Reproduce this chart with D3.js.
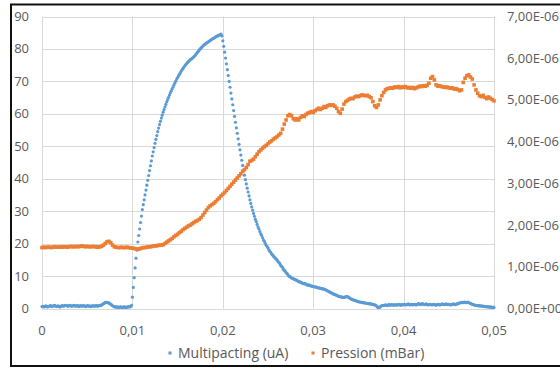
<!DOCTYPE html>
<html>
<meta charset="utf-8">
<style>
  body { margin: 0; background: #fff; }
  svg { display: block; }
  .tick-label { font-family: "Open Sans", sans-serif; font-size: 13px; fill: #595959; }
  .legend-label { font-family: "Open Sans", sans-serif; font-size: 14px; fill: #595959; }
  .grid line { stroke: #d9d9d9; stroke-width: 1; }
</style>
<body>
<script src="https://d3js.org/d3.v7.min.js"></script>
<script>
  // sample spacing of the two recordings (x = time-like abscissa)
  let multiStep = 0.0001;
  let pressStep = 0.0002;

  // Multipacting (uA), one value every 0.0001
  let multipacting = [
    0.6, 0.7, 0.5, 0.6, 0.8, 0.7, 0.5, 0.6, 0.7, 0.9,
    0.8, 0.6, 0.7, 0.9, 1.0, 0.8, 0.6, 0.7, 0.8, 0.6,
    0.5, 0.7, 0.9, 0.8, 0.7, 0.9, 1.0, 0.9, 0.8, 0.7,
    0.9, 1.0, 0.8, 0.7, 0.8, 1.0, 0.9, 0.7, 0.8, 0.9,
    0.8, 0.6, 0.8, 0.9, 0.7, 0.8, 0.9, 0.8, 0.6, 0.7,
    0.9, 0.8, 0.7, 0.8, 0.6, 0.7, 0.9, 0.8, 0.7, 0.8,
    0.9, 0.8, 0.7, 0.9, 1.0, 0.9, 1.1, 1.3, 1.5, 1.7,
    1.8, 1.9, 1.8, 1.9, 1.7, 1.5, 1.3, 1.1, 0.9, 0.7,
    0.6, 0.5, 0.4, 0.5, 0.4, 0.3, 0.4, 0.5, 0.4, 0.3,
    0.4, 0.5, 0.4, 0.3, 0.4, 0.5, 0.6, 0.5, 0.6, 1.0,
    3.5, 6.5, 9.5, 12.5, 15.5, 18, 20.5, 22.5, 24.5, 26.5,
    28.5, 30.5, 32, 33.5, 35, 36.5, 38, 39.5, 41, 42.5,
    44, 45.5, 47, 48.3, 49.6, 50.9, 52.1, 53.3, 54.5, 55.6,
    56.7, 57.7, 58.7, 59.6, 60.5, 61.3, 62.1, 62.9, 63.7, 64.4,
    65.1, 65.8, 66.5, 67.1, 67.7, 68.3, 68.9, 69.5, 70.1, 70.7,
    71.2, 71.7, 72.2, 72.7, 73.2, 73.6, 74.0, 74.4, 74.8, 75.2,
    75.5, 75.8, 76.1, 76.4, 76.7, 76.9, 77.1, 77.3, 77.6, 77.9,
    78.2, 78.6, 79.0, 79.3, 79.7, 80.0, 80.3, 80.6, 80.9, 81.2,
    81.4, 81.6, 81.8, 82.0, 82.2, 82.4, 82.6, 82.8, 83.0, 83.2,
    83.3, 83.5, 83.7, 83.8, 84.0, 84.1, 84.3, 84.4, 84.6, 84.0,
    82.5, 80.8, 79.0, 77.2, 75.4, 73.6, 71.8, 70.0, 68.2, 66.4,
    64.6, 62.8, 61.0, 59.2, 57.4, 55.7, 54.0, 52.3, 50.6, 48.9,
    47.3, 45.7, 44.1, 42.6, 41.1, 39.7, 38.4, 37.1, 35.9, 34.7,
    33.5, 32.4, 31.3, 30.3, 29.3, 28.4, 27.5, 26.8, 25.9, 25.1,
    24.5, 23.7, 23.0, 22.5, 21.8, 21.1, 20.7, 20.1, 19.5, 19.1,
    18.7, 18.1, 17.6, 17.3, 16.8, 16.5, 16.2, 15.8, 15.6, 15.2,
    15.0, 14.5, 14.2, 13.9, 13.3, 13.0, 12.7, 12.1, 11.8, 11.5,
    11.0, 10.8, 10.4, 10.0, 9.9, 9.7, 9.4, 9.3, 9.2, 9.0,
    8.9, 8.8, 8.6, 8.5, 8.3, 8.2, 8.1, 8.0, 7.8, 7.7,
    7.6, 7.7, 7.5, 7.3, 7.2, 7.3, 7.1, 7.0, 6.9, 6.9,
    6.8, 6.7, 6.6, 6.7, 6.5, 6.4, 6.3, 6.4, 6.2, 6.1,
    6.1, 6.0, 6.0, 5.9, 5.7, 5.6, 5.4, 5.3, 5.1, 5.0,
    4.8, 4.7, 4.5, 4.4, 4.3, 4.2, 4.0, 3.9, 3.8, 3.7,
    3.6, 3.6, 3.5, 3.4, 3.4, 3.5, 3.6, 3.7, 3.6, 3.5,
    3.3, 3.1, 2.9, 2.8, 2.7, 2.6, 2.5, 2.4, 2.3, 2.2,
    2.1, 2.0, 2.0, 1.9, 1.9, 1.8, 1.8, 1.7, 1.7, 1.6,
    1.6, 1.5, 1.5, 1.4, 1.4, 1.3, 1.3, 1.2, 1.1, 1.0,
    0.8, 0.5, 0.3, 0.3, 0.5, 0.7, 0.9, 1.0, 0.9, 1.0,
    1.1, 1.0, 0.9, 1.1, 1.2, 1.0, 1.1, 1.2, 1.1, 1.0,
    1.1, 1.2, 1.0, 1.1, 1.2, 1.3, 1.1, 1.0, 1.2, 1.1,
    1.2, 1.3, 1.2, 1.1, 1.3, 1.4, 1.2, 1.1, 1.2, 1.3,
    1.1, 1.2, 1.3, 1.2, 1.1, 1.2, 1.4, 1.5, 1.3, 1.2,
    1.4, 1.5, 1.3, 1.2, 1.3, 1.4, 1.2, 1.1, 1.2, 1.3,
    1.2, 1.1, 1.2, 1.3, 1.2, 1.1, 1.0, 1.2, 1.3, 1.2,
    1.1, 1.2, 1.3, 1.4, 1.3, 1.2, 1.3, 1.4, 1.3, 1.2,
    1.3, 1.2, 1.1, 1.2, 1.3, 1.4, 1.3, 1.2, 1.3, 1.4,
    1.5, 1.6, 1.7, 1.8, 1.9, 1.8, 1.9, 2.0, 1.9, 1.8,
    1.9, 2.0, 1.8, 1.7, 1.6, 1.4, 1.3, 1.2, 1.1, 1.0,
    0.9, 1.0, 0.9, 0.8, 0.9, 0.8, 0.7, 0.8, 0.7, 0.6,
    0.7, 0.6, 0.5, 0.6, 0.5, 0.4, 0.5, 0.4, 0.3, 0.4,
    0.3
  ];

  // Pression, in units of 1e-6 mBar, one value every 0.0002
  let pression = [
    1.46, 1.47, 1.46, 1.47, 1.47, 1.46, 1.47, 1.48, 1.47, 1.47,
    1.48, 1.47, 1.48, 1.48, 1.47, 1.48, 1.49, 1.48, 1.48, 1.49,
    1.48, 1.49, 1.50, 1.49, 1.48, 1.49, 1.48, 1.48, 1.49, 1.48,
    1.48, 1.47, 1.48, 1.49, 1.52, 1.56, 1.60, 1.61, 1.58, 1.52,
    1.48, 1.47, 1.46, 1.46, 1.47, 1.46, 1.46, 1.47, 1.46, 1.45,
    1.45, 1.44, 1.43, 1.42, 1.43, 1.45, 1.46, 1.46, 1.47, 1.48,
    1.48, 1.49, 1.50, 1.50, 1.51, 1.52, 1.52, 1.53, 1.56, 1.59,
    1.62, 1.65, 1.68, 1.72, 1.75, 1.78, 1.82, 1.85, 1.89, 1.92,
    1.95, 1.98, 2.00, 2.03, 2.06, 2.09, 2.11, 2.14, 2.18, 2.24,
    2.30, 2.36, 2.42, 2.46, 2.49, 2.52, 2.56, 2.61, 2.65, 2.70,
    2.74, 2.78, 2.83, 2.88, 2.93, 2.98, 3.03, 3.08, 3.13, 3.18,
    3.23, 3.29, 3.33, 3.38, 3.45, 3.53, 3.55, 3.58, 3.64, 3.70,
    3.76, 3.80, 3.84, 3.88, 3.91, 3.95, 3.99, 4.02, 4.06, 4.09,
    4.12, 4.16, 4.20, 4.30, 4.42, 4.52, 4.62, 4.65, 4.62, 4.55,
    4.52, 4.55, 4.52, 4.58, 4.62, 4.60, 4.65, 4.68, 4.70, 4.72,
    4.70, 4.74, 4.77, 4.80, 4.77, 4.80, 4.84, 4.82, 4.86, 4.88,
    4.87, 4.88, 4.85, 4.80, 4.72, 4.68, 4.78, 4.90, 4.96, 4.99,
    5.02, 5.04, 5.03, 5.07, 5.09, 5.08, 5.10, 5.12, 5.11, 5.10,
    5.11, 5.08, 5.05, 4.96, 4.86, 4.82, 4.88, 5.00, 5.10, 5.18,
    5.24, 5.27, 5.28, 5.29, 5.28, 5.31, 5.30, 5.32, 5.29, 5.31,
    5.30, 5.32, 5.29, 5.30, 5.28, 5.30, 5.27, 5.29, 5.31, 5.33,
    5.32, 5.34, 5.33, 5.35, 5.40, 5.52, 5.56, 5.48, 5.36, 5.33,
    5.34, 5.32, 5.31, 5.30, 5.31, 5.29, 5.28, 5.29, 5.26, 5.27,
    5.25, 5.22, 5.24, 5.42, 5.52, 5.58, 5.60, 5.55, 5.50, 5.36,
    5.24, 5.16, 5.10, 5.08, 5.11, 5.06, 5.03, 5.07, 5.04, 5.01,
    4.98
  ];

  let xTicks = [0, 0.01, 0.02, 0.03, 0.04, 0.05];
  let xTickLabels = ["0", "0,01", "0,02", "0,03", "0,04", "0,05"];
  let leftTicks = [0, 10, 20, 30, 40, 50, 60, 70, 80, 90];
  let rightTicks = [0, 1e-6, 2e-6, 3e-6, 4e-6, 5e-6, 6e-6, 7e-6];
  let rightTickLabels = ["0,00E+00", "1,00E-06", "2,00E-06", "3,00E-06",
                         "4,00E-06", "5,00E-06", "6,00E-06", "7,00E-06"];
  let seriesNames = ["Multipacting (uA)", "Pression (mBar)"];
  let seriesColors = ["#5b9bd5", "#ed7d31"];

  let width = 560, height = 369;

  let svg = d3.select("body").append("svg")
    .attr("width", width)
    .attr("height", height);

  // outer frame (right edge runs off the picture)
  svg.append("rect")
    .attr("x", 11).attr("y", 4.5)
    .attr("width", 620).attr("height", 361.5)
    .attr("fill", "none")
    .attr("stroke", "#111")
    .attr("stroke-width", 2);

  let x = d3.scaleLinear().domain([0, 0.05]).range([42, 494]);
  let yLeft = d3.scaleLinear().domain([0, 90]).range([308.5, 16.5]);
  let yRight = d3.scaleLinear().domain([0, 7e-6]).range([308.5, 16.5]);

  // grid
  let grid = svg.append("g").attr("class", "grid");
  grid.selectAll(".h")
    .data(leftTicks)
    .join("line")
      .attr("x1", x(0)).attr("x2", x(0.05))
      .attr("y1", d => Math.round(yLeft(d)) + 0.5)
      .attr("y2", d => Math.round(yLeft(d)) + 0.5);
  grid.selectAll(".v")
    .data(xTicks)
    .join("line")
      .attr("class", "v")
      .attr("x1", d => Math.round(x(d)) + 0.5)
      .attr("x2", d => Math.round(x(d)) + 0.5)
      .attr("y1", yLeft(90)).attr("y2", yLeft(0));

  // tick labels
  svg.append("g").selectAll("text")
    .data(leftTicks)
    .join("text")
      .attr("class", "tick-label")
      .attr("x", 29)
      .attr("y", d => yLeft(d))
      .attr("dy", "0.35em")
      .attr("text-anchor", "end")
      .text(d => d);

  svg.append("g").selectAll("text")
    .data(rightTicks)
    .join("text")
      .attr("class", "tick-label")
      .attr("x", 507)
      .attr("y", d => yRight(d))
      .attr("dy", "0.35em")
      .text((d, i) => rightTickLabels[i]);

  svg.append("g").selectAll("text")
    .data(xTicks)
    .join("text")
      .attr("class", "tick-label")
      .attr("x", d => x(d))
      .attr("y", 330)
      .attr("dy", "0.35em")
      .attr("text-anchor", "middle")
      .text((d, i) => xTickLabels[i]);

  // series
  svg.append("g").selectAll("circle")
    .data(multipacting)
    .join("circle")
      .attr("cx", (d, i) => x(i * multiStep))
      .attr("cy", d => yLeft(d))
      .attr("r", 1.6)
      .attr("fill", seriesColors[0]);

  svg.append("g").selectAll("rect")
    .data(pression)
    .join("rect")
      .attr("x", (d, i) => x(i * pressStep) - 1.8)
      .attr("y", d => yRight(d * 1e-6) - 1.8)
      .attr("width", 3.6).attr("height", 3.6)
      .attr("fill", seriesColors[1]);

  // legend
  let legend = svg.append("g");
  let legendX = [170, 313];
  legend.selectAll("rect")
    .data(seriesNames)
    .join("rect")
      .attr("x", (d, i) => legendX[i] - 1.5)
      .attr("y", 351.5)
      .attr("width", 3).attr("height", 3)
      .attr("fill", (d, i) => seriesColors[i]);
  legend.selectAll("text")
    .data(seriesNames)
    .join("text")
      .attr("class", "legend-label")
      .attr("x", (d, i) => legendX[i] + 8)
      .attr("y", 353)
      .attr("dy", "0.35em")
      .text(d => d);
</script>
</body>
</html>
